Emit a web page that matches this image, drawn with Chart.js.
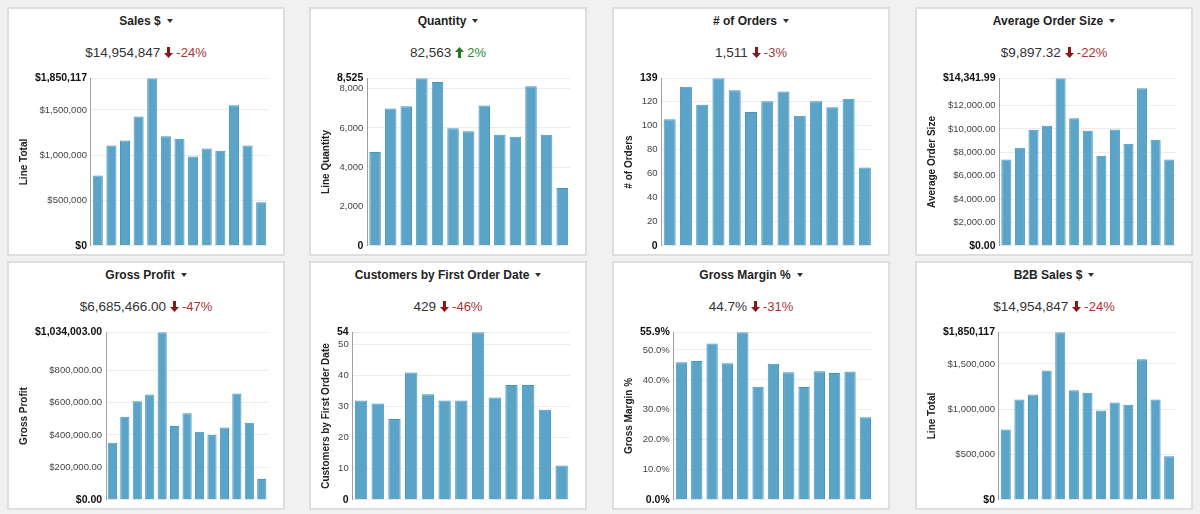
<!DOCTYPE html>
<html>
<head>
<meta charset="utf-8">
<script src="https://cdn.jsdelivr.net/npm/chart.js@4.4.1/dist/chart.umd.min.js"></script>
<style>
  html,body{margin:0;padding:0;background:#f1f1f1;width:1200px;height:514px;overflow:hidden;font-family:"Liberation Sans",Arial,Helvetica,sans-serif;}
  .panel{position:absolute;width:278px;height:249px;box-sizing:border-box;border:2px solid #dedede;background:#fff;}
  .title{position:absolute;left:0;right:0;top:5px;height:14px;line-height:14px;text-align:center;font-size:12px;font-weight:bold;color:#222;}
  .caret{display:inline-block;width:0;height:0;border-left:3.5px solid transparent;border-right:3.5px solid transparent;border-top:4px solid #333;margin-left:6px;vertical-align:middle;position:relative;top:-1px;}
  .kpi{position:absolute;left:0;right:0;top:36px;height:16px;line-height:16px;text-align:center;font-size:13.5px;color:#333;white-space:nowrap;}
  .kpi svg{vertical-align:middle;position:relative;top:-1px;margin:0 3px 0 4px;}
  .down{color:#a83434;font-size:13px;}
  .up{color:#2b8a2b;font-size:13px;}
  canvas{position:absolute;left:0;top:59px;}
</style>
</head>
<body>
<div id="root"></div>
<script>
// ---- DATA ----
const periods = ['Jul 2013','Aug 2013','Sep 2013','Oct 2013','Nov 2013','Dec 2013','Jan 2014','Feb 2014','Mar 2014','Apr 2014','May 2014','Jun 2014','Jul 2014'];

const salesValues = [775000, 1108000, 1163000, 1429000, 1850117, 1211000, 1182000, 986000, 1075000, 1049000, 1551000, 1108000, 480000];
const salesTicks = [0, 500000, 1000000, 1500000, 1850117];

const quantityValues = [4767, 6988, 7107, 8525, 8338, 5980, 5826, 7142, 5655, 5553, 8116, 5655, 2939];
const quantityTicks = [0, 2000, 4000, 6000, 8000, 8525];

const ordersValues = [105, 132, 117, 139, 129, 111, 120, 128, 108, 120, 115, 122, 65];
const ordersTicks = [0, 20, 40, 60, 80, 100, 120, 139];

const aosValues = [7381, 8394, 9940, 10281, 14341.99, 10910, 9850, 7703, 9954, 8742, 13487, 9082, 7385];
const aosTicks = [0, 2000, 4000, 6000, 8000, 10000, 12000, 14341.99];

const profitValues = [351500, 512800, 607900, 649300, 1034003, 454900, 533500, 419800, 401200, 446600, 655500, 475600, 128200];
const profitTicks = [0, 200000, 400000, 600000, 800000, 1034003];

const customersValues = [32, 31, 26, 41, 34, 32, 32, 54, 33, 37, 37, 29, 11];
const customersTicks = [0, 10, 20, 30, 40, 50, 54];

const marginValues = [45.9, 46.3, 52.2, 45.6, 55.9, 37.7, 45.4, 42.6, 37.6, 42.9, 42.3, 42.8, 27.5];
const marginTicks = [0, 10, 20, 30, 40, 50, 55.9];

const b2bValues = [775000, 1108000, 1163000, 1429000, 1850117, 1211000, 1182000, 986000, 1075000, 1049000, 1551000, 1108000, 480000];
const b2bTicks = [0, 500000, 1000000, 1500000, 1850117];

const panelTitles = ['Sales $','Quantity','# of Orders','Average Order Size','Gross Profit','Customers by First Order Date','Gross Margin %','B2B Sales $'];
const kpiValues = ['$14,954,847','82,563','1,511','$9,897.32','$6,685,466.00','429','44.7%','$14,954,847'];
const kpiChanges = ['-24%','2%','-3%','-22%','-47%','-46%','-31%','-24%'];
const axisTitles = ['Line Total','Line Quantity','# of Orders','Average Order Size','Gross Profit','Customers by First Order Date','Gross Margin %','Line Total'];

// ---- FORMATTERS ----
const fmtInt = v => Math.round(v).toLocaleString('en-US');
const fmtDollar0 = v => '$' + Math.round(v).toLocaleString('en-US');
const fmtDollar2 = v => '$' + v.toLocaleString('en-US',{minimumFractionDigits:2,maximumFractionDigits:2});
const fmtPct1 = v => v.toFixed(1) + '%';

const panels = [
  {values:salesValues, ticks:salesTicks, fmt:fmtDollar0},
  {values:quantityValues, ticks:quantityTicks, fmt:fmtInt},
  {values:ordersValues, ticks:ordersTicks, fmt:fmtInt},
  {values:aosValues, ticks:aosTicks, fmt:fmtDollar2},
  {values:profitValues, ticks:profitTicks, fmt:fmtDollar2},
  {values:customersValues, ticks:customersTicks, fmt:fmtInt},
  {values:marginValues, ticks:marginTicks, fmt:fmtPct1},
  {values:b2bValues, ticks:b2bTicks, fmt:fmtDollar0}
];

const lefts = [7, 309, 612, 915];
const tops = [7, 261];
const FONT = '"Liberation Sans", Arial, Helvetica, sans-serif';

function arrowSvg(up){
  const c = up ? '#1f7a1f' : '#8e1515';
  const path = up
    ? 'M4.5 0 L9 5 L6 5 L6 11 L3 11 L3 5 L0 5 Z'
    : 'M3 0 L6 0 L6 6 L9 6 L4.5 11 L0 6 L3 6 Z';
  return '<svg width="9" height="11" viewBox="0 0 9 11"><path d="'+path+'" fill="'+c+'"/></svg>';
}

const root = document.getElementById('root');
panels.forEach((p, i) => {
  const div = document.createElement('div');
  div.className = 'panel';
  div.style.left = lefts[i % 4] + 'px';
  div.style.top = tops[Math.floor(i / 4)] + 'px';
  const up = !kpiChanges[i].startsWith('-');
  div.innerHTML =
    '<div class="title">' + panelTitles[i] + '<span class="caret"></span></div>' +
    '<div class="kpi">' + kpiValues[i] + arrowSvg(up) + '<span class="' + (up ? 'up' : 'down') + '">' + kpiChanges[i] + '</span></div>';
  const canvas = document.createElement('canvas');
  canvas.width = 274; canvas.height = 188;
  canvas.style.width = '274px'; canvas.style.height = '188px';
  div.appendChild(canvas);
  root.appendChild(div);

  const last = p.ticks.length - 1;
  new Chart(canvas, {
    type: 'bar',
    data: {
      labels: periods,
      datasets: [{
        data: p.values,
        backgroundColor: '#5ca3c8',
        borderColor: '#4597c3',
        borderWidth: 1,
        categoryPercentage: 0.82,
        barPercentage: 0.9
      }]
    },
    options: {
      animation: false,
      responsive: false,
      maintainAspectRatio: false,
      devicePixelRatio: 1,
      plugins: { legend: { display: false }, tooltip: { enabled: false } },
      layout: { padding: { left: 5, right: 15, top: 0, bottom: 0 } },
      scales: {
        x: { display: false },
        y: {
          min: 0,
          max: p.ticks[last],
          afterBuildTicks: s => { s.ticks = p.ticks.map(v => ({ value: v })); },
          grid: { color: '#ececec', drawTicks: false },
          border: { color: '#a0a0a0', width: 1 },
          ticks: {
            autoSkip: false,
            padding: 4,
            callback: v => p.fmt(v),
            font: c => ({ family: FONT, size: (c.index === 0 || c.index === last) ? 10.5 : 9.5, weight: (c.index === 0 || c.index === last) ? 'bold' : 'normal' }),
            color: c => (c.index === 0 || c.index === last) ? '#111' : '#444'
          },
          title: {
            display: true,
            text: axisTitles[i],
            color: '#222',
            font: { family: FONT, size: 10, weight: 'bold' },
            padding: { top: 4, bottom: 1 }
          }
        }
      }
    }
  });
});
</script>
</body>
</html>
